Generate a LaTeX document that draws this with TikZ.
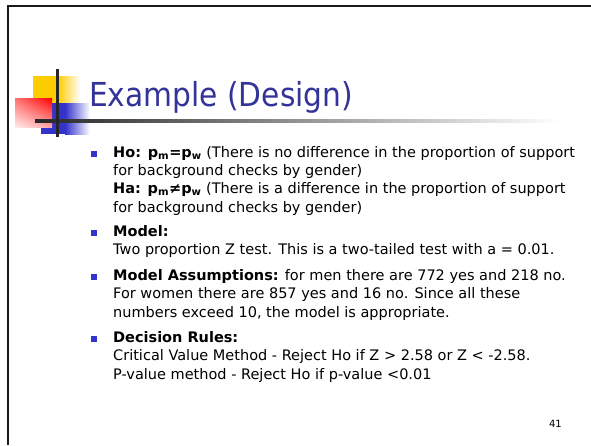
\documentclass[tikz,border=0pt]{standalone}
\usepackage{fontspec}
\setmainfont{DejaVu Sans}
\newfontfamily\titelschrift{DejaVu Sans Condensed}
\usetikzlibrary{shadings}
\definecolor{titelblau}{RGB}{51,51,153}
\definecolor{punktblau}{RGB}{51,51,204}
\definecolor{logogelb}{RGB}{255,204,0}
\tikzset{
  zeile/.style={anchor=base west, inner sep=0pt, font=\fontsize{14.5}{18}\selectfont},
  punkt/.style={fill=punktblau, minimum size=5.5pt, inner sep=0pt, anchor=south west},
}

\begin{document}
\begin{tikzpicture}[x=1pt,y=-1pt]
  \useasboundingbox (0,0) rectangle (591,445);

  % Rahmen
  \draw[line width=2.5pt, black!90] (591,6.2) -- (8,6.2) -- (8,445);

  % Logo
  \fill[logogelb] (33,76) rectangle (58,103);
  \shade[left color=logogelb, right color=white] (58,76) rectangle (80,103);
  \fill[punktblau] (41,103) rectangle (65,134);
  \shade[left color=punktblau, right color=white] (65,103) rectangle (90,134);
  \shade[upper left=red!55, upper right=red, lower left=red!8, lower right=red!35] (15,98) rectangle (52,127);
  \shade[left color=black!85, right color=white] (35,119.5) rectangle (560,122.5);
  \draw[line width=3pt, black!85] (57,69) -- (57,137);

  % Titel
  \node[anchor=base west, inner sep=0pt, font=\titelschrift\fontsize{33}{40}\selectfont, text=titelblau]
    (titel) at (89,106) {Example (Design)};

  % Aufzaehlung
  \node[punkt] (p1) at (91,157) {};
  \node[zeile] (ho)   at (113,157)   {\textbf{Ho: p\textsubscript{m}=p\textsubscript{w}} (There is no difference in the proportion of support};
  \node[zeile] (ho2)  at (113,175.3) {for background checks by gender)};
  \node[zeile] (ha)   at (113,193.6) {\textbf{Ha: p\textsubscript{m}≠p\textsubscript{w}} (There is a difference in the proportion of support};
  \node[zeile] (ha2)  at (113,212)   {for background checks by gender)};

  \node[punkt] (p2) at (91,236) {};
  \node[zeile] (mod)  at (113,236)   {\textbf{Model:}};
  \node[zeile] (mod2) at (113,254.5) {Two proportion Z test. This is a two-tailed test with a = 0.01.};

  \node[punkt] (p3) at (91,280) {};
  \node[zeile] (ann)  at (113,280)   {\textbf{Model Assumptions:} for men there are 772 yes and 218 no.};
  \node[zeile] (ann2) at (113,298.5) {For women there are 857 yes and 16 no. Since all these};
  \node[zeile] (ann3) at (113,317)   {numbers exceed 10, the model is appropriate.};

  \node[punkt] (p4) at (91,342) {};
  \node[zeile] (reg)  at (113,342)   {\textbf{Decision Rules:}};
  \node[zeile] (reg2) at (113,360.5) {Critical Value Method - Reject Ho if Z > 2.58 or Z < -2.58.};
  \node[zeile] (reg3) at (113,379)   {P-value method - Reject Ho if p-value <0.01};

  % Seitenzahl
  \node[anchor=base east, inner sep=0pt, font=\fontsize{10}{12}\selectfont]
    (seite) at (562,427) {41};
\end{tikzpicture}
\end{document}
